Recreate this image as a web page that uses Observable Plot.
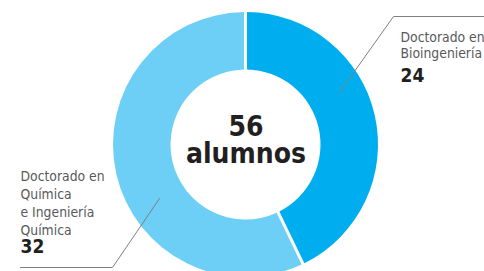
<!DOCTYPE html>
<html>
<head>
<meta charset="utf-8">
<script src="https://cdn.jsdelivr.net/npm/d3@7"></script>
<script src="https://cdn.jsdelivr.net/npm/@observablehq/plot@0.6"></script>
<style>
  html, body { margin: 0; padding: 0; background: #fff; }
  #chart svg { display: block; }
</style>
</head>
<body>
<div id="chart"></div>
<script>
// Data
const categories = ["Doctorado en\nBioingeniería", "Doctorado en\nQuímica\ne Ingeniería\nQuímica"];
const values = [24, 32];
const colors = ["#00aeef", "#6dcff6"];
const totalLabel = "alumnos";

const W = 484, H = 271;
const cx = 245.5, cy = 144.5, rOuter = 132.5, rInner = 75;
const FONT = "'DejaVu Sans Condensed', 'Open Sans', sans-serif";

const data = categories.map((c, i) => ({category: c, value: values[i], color: colors[i]}));
const total = d3.sum(values);

const pie = d3.pie().value(d => d.value).sort(null)(data);
const arc = d3.arc().innerRadius(rInner).outerRadius(rOuter).padAngle(0.02);

// annotation layout
const leaders = [
  {id: 0, pts: [[339, 92], [393, 16], [484, 16]]},
  {id: 1, pts: [[159, 198], [112, 267], [20, 267]]}
];
const leaderRows = leaders.flatMap(l => l.pts.map(p => ({id: l.id, x: p[0], y: p[1]})));
const labelPos = [
  {x: 400, yText: 29.5, yNum: 81, lh: 1.2},
  {x: 20, yText: 168, yNum: 252.5, lh: 1.3}
];

const donut = (index, scales, values, dimensions, context) => {
  const g = d3.create("svg:g")
    .attr("transform", `translate(${scales.x(cx)},${scales.y(cy)})`);
  g.selectAll("path").data(pie).join("path")
    .attr("d", arc)
    .attr("fill", d => d.data.color);
  return g.node();
};

const labelMarks = data.map((d, i) => Plot.text([d], {
  x: () => labelPos[i].x, y: () => labelPos[i].yText,
  text: "category", textAnchor: "start", lineAnchor: "top",
  fontSize: 13.8, lineHeight: labelPos[i].lh, fill: "#58595b"
}));

const chart = Plot.plot({
  width: W, height: H,
  margin: 0,
  x: {domain: [0, W], range: [0, W], axis: null},
  y: {domain: [0, H], range: [0, H], axis: null},
  style: {fontFamily: FONT, background: "#fff"},
  marks: [
    donut,
    Plot.line(leaderRows, {x: "x", y: "y", z: "id", stroke: "#7f7f7f", strokeWidth: 1}),
    ...labelMarks,
    Plot.text(data, {
      x: (d, i) => labelPos[i].x, y: (d, i) => labelPos[i].yNum,
      text: d => String(d.value), textAnchor: "start", lineAnchor: "bottom",
      fontSize: 19, fontWeight: "bold", fill: "#231f20"
    }),
    Plot.text([total], {
      x: () => cx, y: () => 127, text: d => String(d),
      textAnchor: "middle", lineAnchor: "middle",
      fontSize: 28, fontWeight: "bold", fill: "#231f20"
    }),
    Plot.text([totalLabel], {
      x: () => cx, y: () => 153.5, text: d => d,
      textAnchor: "middle", lineAnchor: "middle",
      fontSize: 28, fontWeight: "bold", fill: "#231f20"
    })
  ]
});
document.getElementById("chart").appendChild(chart);
</script>
</body>
</html>
